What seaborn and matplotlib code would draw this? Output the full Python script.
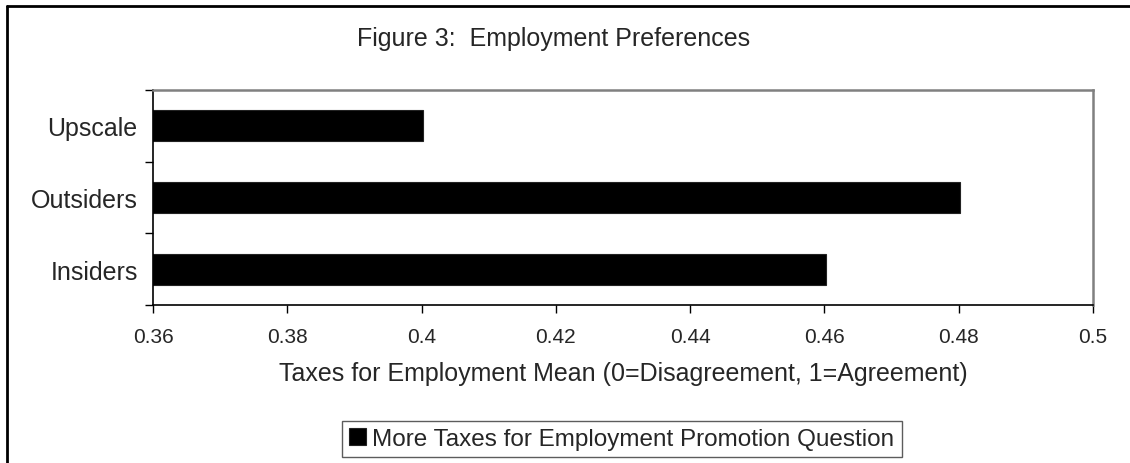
import matplotlib
matplotlib.use("Agg")
import matplotlib.pyplot as plt
import seaborn as sns
import pandas as pd
from matplotlib.lines import Line2D

categories = ["Upscale", "Outsiders", "Insiders"]
values = [0.4002, 0.4802, 0.4602]
series_name = "More Taxes for Employment Promotion Question"
x_ticks = [0.36, 0.38, 0.40, 0.42, 0.44, 0.46, 0.48, 0.50]
x_tick_labels = ["0.36", "0.38", "0.4", "0.42", "0.44", "0.46", "0.48", "0.5"]
title = "Figure 3:  Employment Preferences"
x_label = "Taxes for Employment Mean (0=Disagreement, 1=Agreement)"

sns.set_theme(style="white")
plt.rcParams["font.family"] = ["Liberation Sans", "DejaVu Sans"]

df = pd.DataFrame({"group": categories, "value": values})

fig = plt.figure(figsize=(11.3, 4.64), dpi=100)
ax = fig.add_axes([153 / 1130, 1 - 306 / 464, (1093 - 153) / 1130, (306 - 91) / 464])

sns.barplot(data=df, y="group", x="value", order=categories, color="black",
            width=0.43, orient="h", ax=ax, edgecolor="#222222", linewidth=0.8,
            label=series_name)

ax.set_xlim(0.36, 0.50)
ax.set_ylim(2.5, -0.5)
ax.set_xticks(x_ticks)
ax.set_xticklabels(x_tick_labels, fontsize=15)
ax.set_yticks(range(len(categories)))
ax.set_yticklabels(categories, fontsize=18)
ax.set_yticks([-0.5, 0.5, 1.5, 2.5], minor=True)
ax.tick_params(axis="y", which="major", length=0, pad=11)
ax.tick_params(axis="y", which="minor", length=6, width=1, color="black", direction="out", left=True)
ax.tick_params(axis="x", which="major", length=6, width=1, color="black", direction="out", bottom=True, pad=10)
ax.set_xlabel("")
ax.set_ylabel("")

for side in ["left", "bottom"]:
    ax.spines[side].set_color("black")
    ax.spines[side].set_linewidth(1.2)
for side in ["top", "right"]:
    ax.spines[side].set_color("#808080")
    ax.spines[side].set_linewidth(1.8)
    ax.spines[side].set_visible(True)

if ax.get_legend() is not None:
    ax.get_legend().remove()

fig.text(554 / 1130, 1 - 39 / 464, title, ha="center", va="center", fontsize=18)
fig.text(623 / 1130, 1 - 374 / 464, x_label, ha="center", va="center", fontsize=18)

handle = ax.patches[0]
leg = fig.legend([handle], [series_name], loc="center",
                 bbox_to_anchor=(622 / 1130, 1 - 440 / 464),
                 fontsize=17.5, frameon=True, fancybox=False,
                 edgecolor="#333333", handlelength=0.7, handleheight=0.7,
                 handletextpad=0.25, borderpad=0.3, borderaxespad=0)
leg.get_frame().set_linewidth(1.0)

# outer chart-area border (top and left visible)
fig.add_artist(Line2D([7 / 1130, 7 / 1130], [0, 1 - 7 / 464], transform=fig.transFigure,
                      color="black", linewidth=2))
fig.add_artist(Line2D([7 / 1130, 1], [1 - 7 / 464, 1 - 7 / 464], transform=fig.transFigure,
                      color="black", linewidth=2))

fig.savefig("out.png", dpi=100, facecolor="white")
